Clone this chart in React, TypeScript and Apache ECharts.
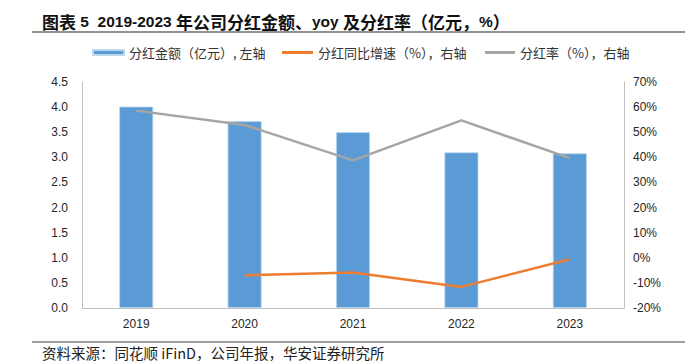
import React, { useEffect, useRef } from "react";
import * as echarts from "echarts";

const years = ["2019", "2020", "2021", "2022", "2023"];
const dividendAmount = [4.01, 3.72, 3.5, 3.1, 3.08];
const dividendYoY: (number | null)[] = [null, -7.0, -5.9, -11.6, -0.6];
const payoutRatio = [58.6, 52.9, 38.8, 54.7, 39.7];

const titleParts: [string, string][] = [
  ["c", "图表"],
  ["l", " 5  2019-2023 "],
  ["c", "年公司分红金额、"],
  ["l", "yoy "],
  ["c", "及分红率（亿元，"],
  ["l", "%"],
  ["c", "）"],
];
const sourceText = "资料来源：同花顺 iFinD，公司年报，华安证券研究所";
const legendNames = ["分红金额（亿元）, 左轴", "分红同比增速（%），右轴", "分红率（%），右轴"];

const BLUE = "#5B9BD5";
const ORANGE = "#ED7D31";
const GRAY = "#A5A5A5";
const FONT = "Arial, 'Noto Sans CJK SC', sans-serif";
const CJK = "'Noto Sans CJK SC', sans-serif";

export default function App() {
  const ref = useRef<HTMLDivElement>(null);
  useEffect(() => {
    document.body.style.margin = "0";
    const chart = echarts.init(ref.current!, null, { renderer: "svg" });
    const legendText = { fontSize: 13, color: "#333", fontFamily: CJK };
    const legendBase = { top: 46, padding: 0, textStyle: legendText };
    chart.setOption({
      animation: false,
      textStyle: { fontFamily: FONT },
      title: {
        text: titleParts.map(([k, t]) => `{${k}|${t}}`).join(""),
        left: 42,
        top: 13,
        padding: 0,
        textStyle: {
          fontFamily: FONT,
          fontWeight: "bold",
          rich: {
            c: { fontSize: 17, fontWeight: "bold", color: "#111", fontFamily: CJK },
            l: { fontSize: 15.5, fontWeight: "bold", color: "#111", fontFamily: "Arial" },
          },
        },
      },
      legend: [
        { ...legendBase, data: [{ name: legendNames[0], icon: "rect" }], left: 92, itemWidth: 31, itemHeight: 5 },
        { ...legendBase, data: [{ name: legendNames[1], icon: "rect" }], left: 282, itemWidth: 31, itemHeight: 3 },
        { ...legendBase, data: [{ name: legendNames[2], icon: "rect" }], left: 485, itemWidth: 30, itemHeight: 3 },
      ],
      grid: { left: 82, right: 61, top: 82, bottom: 54 },
      xAxis: {
        type: "category",
        data: years,
        axisLine: { lineStyle: { color: "#BFBFBF", width: 1 } },
        axisTick: { show: false },
        axisLabel: { color: "#262626", fontSize: 12, margin: 10 },
      },
      yAxis: [
        {
          type: "value",
          min: 0,
          max: 4.5,
          interval: 0.5,
          axisLine: { show: true, lineStyle: { color: "#BFBFBF" } },
          axisTick: { show: false },
          splitLine: { show: false },
          axisLabel: { color: "#262626", fontSize: 12, margin: 14, formatter: (v: number) => v.toFixed(1) },
        },
        {
          type: "value",
          min: -20,
          max: 70,
          interval: 10,
          axisLine: { show: true, lineStyle: { color: "#BFBFBF" } },
          axisTick: { show: false },
          splitLine: { show: false },
          axisLabel: { color: "#262626", fontSize: 12, margin: 9, formatter: (v: number) => v + "%" },
        },
      ],
      series: [
        {
          name: legendNames[0],
          type: "bar",
          data: dividendAmount,
          barWidth: 34,
          itemStyle: { color: BLUE, borderColor: "#BDD7EE", borderWidth: 0.8 },
        },
        {
          name: legendNames[1],
          type: "line",
          yAxisIndex: 1,
          data: dividendYoY,
          symbol: "none",
          lineStyle: { color: ORANGE, width: 2.5 },
          itemStyle: { color: ORANGE },
        },
        {
          name: legendNames[2],
          type: "line",
          yAxisIndex: 1,
          data: payoutRatio,
          symbol: "none",
          lineStyle: { color: GRAY, width: 2.5 },
          itemStyle: { color: GRAY },
        },
      ],
      graphic: [
        {
          type: "line",
          shape: { x1: 32, y1: 32, x2: 685, y2: 32 },
          style: { stroke: "#6F6F6F", lineWidth: 1.5 },
        },
        {
          type: "line",
          shape: { x1: 32, y1: 342, x2: 685, y2: 342 },
          style: { stroke: "#7F7F7F", lineWidth: 1.5 },
        },
        {
          type: "text",
          left: 42,
          top: 345,
          style: { text: sourceText, fontSize: 14.5, fill: "#222", fontFamily: CJK },
        },
      ],
    });
    return () => chart.dispose();
  }, []);
  return <div ref={ref} style={{ width: 685, height: 362 }} />;
}
